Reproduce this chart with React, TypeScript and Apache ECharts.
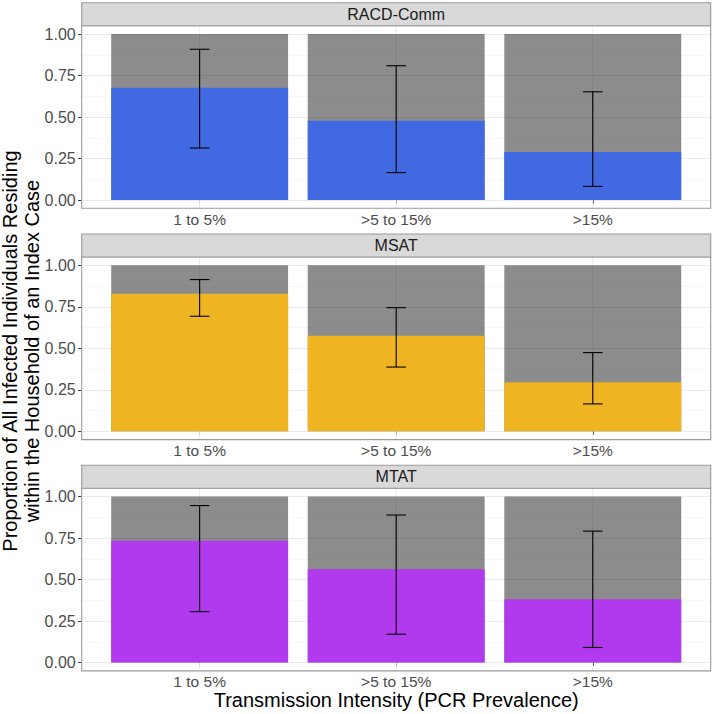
import React, { useEffect, useRef } from "react";
import * as echarts from "echarts";

const categories = ["1 to 5%", ">5 to 15%", ">15%"];
const panelNames = ["RACD-Comm", "MSAT", "MTAT"];
const panelColors = ["#4169E1", "#EEB422", "#B23AEE"];

const racdValues = [0.676, 0.478, 0.289];
const racdLower = [0.313, 0.165, 0.082];
const racdUpper = [0.908, 0.809, 0.652];

const msatValues = [0.829, 0.576, 0.295];
const msatLower = [0.693, 0.387, 0.165];
const msatUpper = [0.914, 0.745, 0.474];

const mtatValues = [0.734, 0.563, 0.381];
const mtatLower = [0.307, 0.171, 0.091];
const mtatUpper = [0.946, 0.889, 0.792];

const xTitle = "Transmission Intensity (PCR Prevalence)";
const yTitleLines = [
  "Proportion of All Infected Individuals Residing",
  "within the Household of an Index Case",
];

const FONT = "'Liberation Sans', Arial, Helvetica, sans-serif";

export default function App() {
  const ref = useRef<HTMLDivElement>(null);
  useEffect(() => {
    if (!ref.current) return;
    const chart = echarts.init(ref.current, undefined, { renderer: "svg" });

    const seriesData = [
      [racdValues, racdLower, racdUpper],
      [msatValues, msatLower, msatUpper],
      [mtatValues, mtatLower, mtatUpper],
    ];

    const gridLeft = 81.7;
    const gridWidth = 629;
    const gridHeight = 166;
    const firstTop = 34;
    const step = 231.3;
    const pad = 0.05 * gridHeight;
    const stripH = 23;
    const borderColor = "#9A9A9A";

    const grids: any[] = [];
    const xAxes: any[] = [];
    const yAxes: any[] = [];
    const series: any[] = [];
    const graphics: any[] = [];

    for (let i = 0; i < 3; i++) {
      const top = firstTop + step * i;
      grids.push({ left: gridLeft, top, width: gridWidth, height: gridHeight, containLabel: false });
      xAxes.push({
        type: "value",
        gridIndex: i,
        min: 0.4,
        max: 3.6,
        offset: pad,
        axisLine: { show: false },
        splitLine: { show: false },
        axisTick: { show: true, length: 3.5, customValues: [1, 2, 3], lineStyle: { color: "#333333", width: 1 } },
        axisLabel: {
          customValues: [1, 2, 3],
          formatter: (v: number) => categories[Math.round(v) - 1] ?? "",
          fontSize: 15.5,
          color: "#4D4D4D",
          fontFamily: FONT,
          margin: 3,
        },
      });
      yAxes.push({
        type: "value",
        gridIndex: i,
        min: 0,
        max: 1,
        interval: 0.25,
        axisLine: { show: false },
        axisTick: { show: true, length: 3.5, lineStyle: { color: "#333333", width: 1 } },
        axisLabel: {
          formatter: (v: number) => v.toFixed(2),
          fontSize: 16,
          color: "#4D4D4D",
          fontFamily: FONT,
          margin: 6,
        },
        splitLine: { show: true, lineStyle: { color: "#EBEBEB", width: 1 } },
        minorTick: { show: false, splitNumber: 2 },
        minorSplitLine: { show: true, lineStyle: { color: "#F4F4F4", width: 0.7 } },
      });

      // vertical major grid lines at category positions
      series.push({
        type: "custom",
        xAxisIndex: i,
        yAxisIndex: i,
        clip: false,
        silent: true,
        data: categories.map((_, j) => [j + 1]),
        encode: { x: 0 },
        renderItem: (_p: any, api: any) => {
          const x = api.value(0);
          const a = api.coord([x, 1.05]);
          const b = api.coord([x, -0.05]);
          return {
            type: "line",
            shape: { x1: a[0], y1: a[1], x2: b[0], y2: b[1] },
            style: { stroke: "#EBEBEB", lineWidth: 1 },
          };
        },
      });

      const [vals, lows, highs] = seriesData[i];
      const color = panelColors[i];
      series.push({
        type: "custom",
        xAxisIndex: i,
        yAxisIndex: i,
        clip: false,
        silent: true,
        data: categories.map((_, j) => [j + 1, vals[j], lows[j], highs[j]]),
        encode: { x: 0, y: [1, 2, 3] },
        renderItem: (_p: any, api: any) => {
          const x = api.value(0);
          const v = api.value(1);
          const lo = api.value(2);
          const hi = api.value(3);
          const tl = api.coord([x - 0.45, 1]);
          const br = api.coord([x + 0.45, 0]);
          const vt = api.coord([x - 0.45, v]);
          const eTop = api.coord([x, hi]);
          const eBot = api.coord([x, lo]);
          const capL = api.coord([x - 0.05, hi])[0];
          const capR = api.coord([x + 0.05, hi])[0];
          return {
            type: "group",
            children: [
              {
                type: "rect",
                shape: { x: tl[0], y: tl[1], width: br[0] - tl[0], height: br[1] - tl[1] },
                style: { fill: "rgba(0,0,0,0.45)" },
              },
              {
                type: "rect",
                shape: { x: vt[0], y: vt[1], width: br[0] - vt[0], height: br[1] - vt[1] },
                style: { fill: color },
              },
              {
                type: "line",
                shape: { x1: eTop[0], y1: eTop[1], x2: eBot[0], y2: eBot[1] },
                style: { stroke: "#000000", lineWidth: 1.1 },
              },
              {
                type: "line",
                shape: { x1: capL, y1: eTop[1], x2: capR, y2: eTop[1] },
                style: { stroke: "#000000", lineWidth: 1.1 },
              },
              {
                type: "line",
                shape: { x1: capL, y1: eBot[1], x2: capR, y2: eBot[1] },
                style: { stroke: "#000000", lineWidth: 1.1 },
              },
            ],
          };
        },
      });

      const panelTop = top - pad;
      const panelH = gridHeight + 2 * pad;
      graphics.push({
        type: "rect",
        z: 100,
        silent: true,
        shape: { x: gridLeft, y: panelTop, width: gridWidth, height: panelH },
        style: { fill: "none", stroke: borderColor, lineWidth: 1.1 },
      });
      graphics.push({
        type: "rect",
        z: 100,
        silent: true,
        shape: { x: gridLeft, y: panelTop - stripH, width: gridWidth, height: stripH },
        style: { fill: "#D9D9D9", stroke: borderColor, lineWidth: 1.1 },
      });
      graphics.push({
        type: "text",
        z: 101,
        silent: true,
        x: gridLeft + gridWidth / 2,
        y: panelTop - stripH / 2,
        style: {
          text: panelNames[i],
          fontSize: 16,
          fontFamily: FONT,
          fill: "#1A1A1A",
          align: "center",
          verticalAlign: "middle",
        },
      });
    }

    graphics.push({
      type: "text",
      silent: true,
      x: gridLeft + gridWidth / 2,
      y: 700,
      style: {
        text: xTitle,
        fontSize: 20,
        fontFamily: FONT,
        fill: "#000000",
        align: "center",
        verticalAlign: "middle",
      },
    });
    yTitleLines.forEach((line, k) => {
      graphics.push({
        type: "text",
        silent: true,
        x: 10 + k * 22,
        y: 351,
        rotation: Math.PI / 2,
        style: {
          text: line,
          fontSize: 20,
          fontFamily: FONT,
          fill: "#000000",
          align: "center",
          verticalAlign: "middle",
        },
      });
    });

    chart.setOption({
      animation: false,
      backgroundColor: "#FFFFFF",
      textStyle: { fontFamily: FONT },
      grid: grids,
      xAxis: xAxes,
      yAxis: yAxes,
      series,
      graphic: graphics,
    });

    return () => chart.dispose();
  }, []);

  return (
    <div
      ref={ref}
      style={{ position: "fixed", left: 0, top: 0, width: 714, height: 714 }}
    />
  );
}
